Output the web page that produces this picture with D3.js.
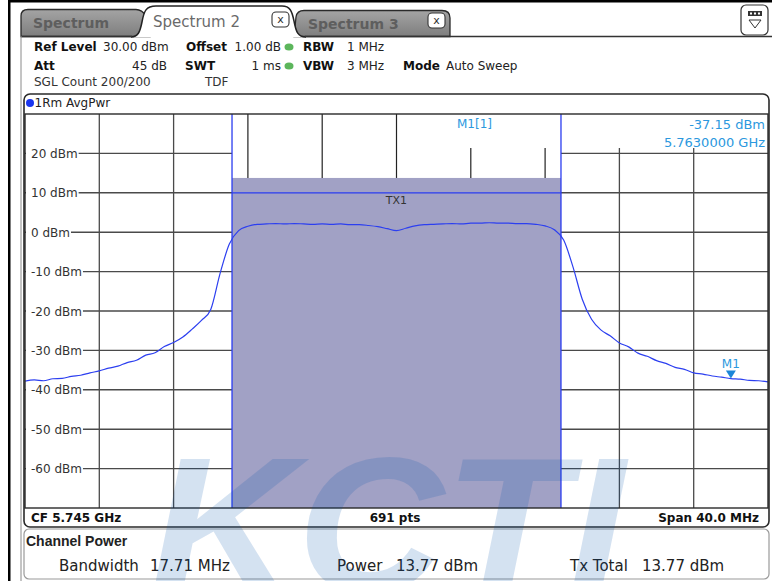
<!DOCTYPE html>
<html><head><meta charset="utf-8">
<script src="https://cdn.jsdelivr.net/npm/d3@7"></script>
<style>body{margin:0;background:#fff;} svg{display:block;}</style>
</head><body>
<svg id="c" width="772" height="581"></svg>
<script>
// ---------- DATA ----------
const centerFreqGHz = 5.745;
const spanMHz = 40.0;
const traceFreqMHz = [-20,-19.5,-19,-18.5,-18,-17.5,-17,-16.5,-16,-15.5,-15,-14.5,-14,-13.5,-13,-12.5,-12,-11.5,-11,-10.5,-10,-9.5,-9,-8.5,-8,-7.5,-7,-6.5,-6,-5.5,-5,-4.5,-4,-3.5,-3,-2.5,-2,-1.5,-1,-0.5,0,0.5,1,1.5,2,2.5,3,3.5,4,4.5,5,5.5,6,6.5,7,7.5,8,8.5,9,9.5,10,10.5,11,11.5,12,12.5,13,13.5,14,14.5,15,15.5,16,16.5,17,17.5,18,18.5,19,19.5,20];
const traceDbm = [-37.8,-37.5,-37.7,-37.2,-37.1,-36.6,-36.3,-35.7,-35.2,-34.5,-34.0,-33.1,-32.5,-31.2,-30.6,-29.0,-28.0,-26.6,-24.6,-22.4,-19.6,-10.5,-3.0,0.4,1.5,2.0,2.1,2.2,2.1,2.2,2.1,2.0,2.1,2.0,2.1,1.9,1.9,1.7,1.4,0.9,0.4,1.0,1.6,1.9,2.0,2.1,2.2,2.1,2.3,2.3,2.4,2.3,2.3,2.2,2.2,2.0,1.6,0.6,-2.0,-8.8,-17.0,-22.1,-24.8,-26.3,-28.1,-29.1,-30.7,-31.5,-32.6,-33.3,-34.3,-34.8,-35.7,-36.0,-36.5,-36.8,-37.15,-37.3,-37.6,-37.7,-38.0];
const yTicks = [20,10,0,-10,-20,-30,-40,-50,-60];
const yTickLabels = ["20 dBm","10 dBm","0 dBm","-10 dBm","-20 dBm","-30 dBm","-40 dBm","-50 dBm","-60 dBm"];
const xGridMHz = [-16,-12,-8,-4,0,4,8,12,16];
const channelBandwidthMHz = 17.71;
const channelPowerDbm = 13.77;
const txTotalDbm = 13.77;
const markerFreqMHz = 18;      // 5.7630000 GHz
const markerDbm = -37.15;
const refLevelDbm = 30;

// ---------- SETUP ----------
const svg = d3.select('#c');
const x = d3.scaleLinear().domain([-spanMHz/2, spanMHz/2]).range([25, 768]);
const y = d3.scaleLinear().domain([refLevelDbm-100, refLevelDbm]).range([508, 114]);
const FONT = "'DejaVu Sans', Verdana, sans-serif";
const GRID = '#4a4a4a';
const BLUE = '#2a3cf0';
const MK = '#2b98de';
const chLo = -channelBandwidthMHz/2, chHi = channelBandwidthMHz/2;

svg.append('rect').attr('width',772).attr('height',581).attr('fill','#fff');

// ---------- TABS ----------
const defs = svg.append('defs');
const g1 = defs.append('linearGradient').attr('id','tabg').attr('x1',0).attr('y1',0).attr('x2',0).attr('y2',1);
g1.append('stop').attr('offset','0%').attr('stop-color','#a4a4a4');
g1.append('stop').attr('offset','100%').attr('stop-color','#7e7e7e');

svg.append('path').attr('d','M21,36.5 L21,16 Q21,9.5 28,9.5 L136,9.5 Q142,9.5 146,16 L150,36.5 Z')
  .attr('fill','url(#tabg)').attr('stroke','#2a2a2a').attr('stroke-width',1.3);
svg.append('path').attr('d','M294,36.5 L296,17 Q297,10.5 304,10.5 L442,10.5 Q450,10.5 450,18 L450,36.5 Z')
  .attr('fill','url(#tabg)').attr('stroke','#2a2a2a').attr('stroke-width',1.3);
svg.append('path').attr('d','M131,37 C138,37 140,32 142,22 C144,11 146,6 156,6 L282,6 C290,6 292,11 294,21 C296,32 298,37 306,37 Z')
  .attr('fill','#fff').attr('stroke','none');
svg.append('path').attr('d','M131,37 C138,37 140,32 142,22 C144,11 146,6 156,6 L282,6 C290,6 292,11 294,21 C296,32 298,37 306,37')
  .attr('fill','none').attr('stroke','#222').attr('stroke-width',1.5);
svg.append('line').attr('x1',21).attr('x2',132).attr('y1',36.5).attr('y2',36.5).attr('stroke','#333').attr('stroke-width',1.3);
svg.append('line').attr('x1',305).attr('x2',772).attr('y1',36.5).attr('y2',36.5).attr('stroke','#333').attr('stroke-width',1.3);
svg.append('line').attr('x1',21).attr('x2',21).attr('y1',36).attr('y2',581).attr('stroke','#8a8a8a').attr('stroke-width',1);

svg.append('text').text('Spectrum').attr('x',33).attr('y',28).attr('font-family',FONT).attr('font-weight','bold').attr('font-size',14).attr('fill','#5e5e5e');
svg.append('text').text('Spectrum 2').attr('x',153).attr('y',27).attr('font-family',FONT).attr('font-size',15).attr('fill','#6a6a6a');
svg.append('text').text('Spectrum 3').attr('x',308).attr('y',29).attr('font-family',FONT).attr('font-weight','bold').attr('font-size',14).attr('fill','#5e5e5e');
// close buttons
[[272,12,'#fff'],[428,13,'#fff']].forEach(([bx,by,f])=>{
  svg.append('rect').attr('x',bx).attr('y',by).attr('width',17).attr('height',15).attr('rx',4).attr('fill',f).attr('stroke','#333').attr('stroke-width',1.1);
  svg.append('text').text('x').attr('x',bx+8.5).attr('y',by+11).attr('text-anchor','middle').attr('font-family',FONT).attr('font-size',11).attr('fill','#333');
});
// top-right icon
svg.append('rect').attr('x',741).attr('y',5).attr('width',27).attr('height',30).attr('rx',5).attr('fill','#fff').attr('stroke','#333').attr('stroke-width',1.2);
svg.append('rect').attr('x',748).attr('y',11).attr('width',14).attr('height',5).attr('fill','#333');
[750,754,758].forEach(px=>svg.append('rect').attr('x',px).attr('y',12.5).attr('width',2).attr('height',2).attr('fill','#fff'));
svg.append('path').attr('d','M749,20 L761,20 L755,28 Z').attr('fill','#fff').attr('stroke','#333').attr('stroke-width',1);

// outer black frame
svg.append('rect').attr('x',8).attr('y',0).attr('width',764).attr('height',2.5).attr('fill','#000');
svg.append('rect').attr('x',8).attr('y',0).attr('width',2.5).attr('height',581).attr('fill','#000');

// ---------- HEADER INFO ----------
function t(txt,xx,yy,opt={}){
  return svg.append('text').text(txt).attr('x',xx).attr('y',yy)
    .attr('font-family',opt.family||FONT).attr('font-size',opt.size||12)
    .attr('font-weight',opt.bold?'bold':'normal').attr('fill',opt.fill||'#111')
    .attr('text-anchor',opt.anchor||'start').attr('dominant-baseline','central');
}
t('Ref Level',34,47,{bold:true}); t('30.00 dBm',103,47,{fill:'#222'});
t('Offset',186,47,{bold:true}); t('1.00 dB',281,47,{anchor:'end',fill:'#222'});
t('RBW',303,47,{bold:true}); t('1 MHz',347,47,{fill:'#222'});
t('Att',34,66,{bold:true}); t('45 dB',167,66,{anchor:'end',fill:'#222'});
t('SWT',185,66,{bold:true}); t('1 ms',281,66,{anchor:'end',fill:'#222'});
t('VBW',303,66,{bold:true}); t('3 MHz',347,66,{fill:'#222'});
t('Mode',403,66,{bold:true}); t('Auto Sweep',446,66,{fill:'#222'});
t('SGL Count 200/200',34,82,{fill:'#333'}); t('TDF',205,82,{fill:'#333'});
[47,66].forEach(yy=>svg.append('ellipse').attr('cx',289).attr('cy',yy).attr('rx',4.5).attr('ry',3.5).attr('fill','#5cb65c'));

// ---------- TRACE WINDOW ----------
svg.append('rect').attr('x',24).attr('y',94).attr('width',745).attr('height',433).attr('rx',6)
  .attr('fill','#fff').attr('stroke','#2a2a2a').attr('stroke-width',1.6);
svg.append('circle').attr('cx',30).attr('cy',103).attr('r',4).attr('fill','#1a35f0');
t('1Rm AvgPwr',34.5,103,{fill:'#222'});

const plot = svg.append('g');
// vertical grid outside channel
xGridMHz.filter(v=>v<chLo||v>chHi).forEach(v=>{
  const top = x(v) > 440 ? 148 : y(refLevelDbm);
  plot.append('line').attr('x1',x(v)).attr('x2',x(v)).attr('y1',top).attr('y2',y(-70))
    .attr('stroke',GRID).attr('stroke-width',1.3);
});
// horizontal grid (outside channel)
yTicks.forEach(v=>{
  plot.append('line').attr('x1',x(-20)).attr('x2',x(chLo)).attr('y1',y(v)).attr('y2',y(v)).attr('stroke',GRID).attr('stroke-width',1.4);
  plot.append('line').attr('x1',x(chHi)).attr('x2',x(20)).attr('y1',y(v)).attr('y2',y(v)).attr('stroke',GRID).attr('stroke-width',1.4);
});
// y labels with white background
yTicks.forEach((v,i)=>{
  const lbl = t(yTickLabels[i],31,y(v)+0.5,{fill:'#333'});
  const w = lbl.node().getComputedTextLength();
  svg.insert('rect', function(){return lbl.node();}).attr('x',26).attr('y',y(v)-7).attr('width',w+6).attr('height',14).attr('fill','#fff');
});
// channel bar
plot.append('rect').attr('x',x(chLo)).attr('y',y(channelPowerDbm)).attr('width',x(chHi)-x(chLo)).attr('height',y(-70)-y(channelPowerDbm))
  .attr('fill','#a1a1c5');
// vertical grid inside channel above bar
xGridMHz.filter(v=>v>=chLo&&v<=chHi).forEach(v=>{
  const top = x(v) > 440 ? 148 : y(refLevelDbm);
  plot.append('line').attr('x1',x(v)).attr('x2',x(v)).attr('y1',top).attr('y2',y(channelPowerDbm))
    .attr('stroke','#222').attr('stroke-width',1.2);
});
plot.append('line').attr('x1',x(chLo)).attr('x2',x(chHi)).attr('y1',y(10)).attr('y2',y(10)).attr('stroke',BLUE).attr('stroke-width',1.3);
[chLo,chHi].forEach(v=>plot.append('line').attr('x1',x(v)).attr('x2',x(v)).attr('y1',y(refLevelDbm)).attr('y2',y(-70)).attr('stroke',BLUE).attr('stroke-width',1.3));
t('TX1',x(0),y(channelPowerDbm)+23,{anchor:'middle',size:11,fill:'#333'});

// trace
const pts = traceFreqMHz.map((f,i)=>[f,traceDbm[i]]);
plot.append('path').attr('d',d3.line().x(d=>x(d[0])).y(d=>y(d[1])).curve(d3.curveMonotoneX)(pts))
  .attr('fill','none').attr('stroke','#2c3ff0').attr('stroke-width',1.2);

// marker
const mx = x(markerFreqMHz), my = y(markerDbm);
plot.append('path').attr('d',`M${mx-5},${my-8} L${mx+5},${my-8} L${mx},${my} Z`).attr('fill','#1b86d8');
t('M1',mx,my-15,{anchor:'middle',fill:MK,size:12});
t('M1[1]',457,124,{fill:MK,size:12});
t('-37.15 dBm',765,124,{anchor:'end',fill:MK,size:13});
t('5.7630000 GHz',765,142,{anchor:'end',fill:MK,size:13});

// plot border
svg.append('rect').attr('x',x(-20)).attr('y',y(refLevelDbm)).attr('width',x(20)-x(-20)).attr('height',y(-70)-y(refLevelDbm))
  .attr('fill','none').attr('stroke','#2a2a2a').attr('stroke-width',1.4);

// bottom bar
t('CF 5.745 GHz',31,518,{bold:true});
t('691 pts',395,518,{bold:true,anchor:'middle'});
t('Span 40.0 MHz',759,518,{bold:true,anchor:'end'});

// ---------- CHANNEL POWER PANEL ----------
svg.append('rect').attr('x',24).attr('y',529).attr('width',745).attr('height',50).attr('rx',5)
  .attr('fill','#fff').attr('stroke','#9a9a9a').attr('stroke-width',1.2);
t('Channel Power',26,541,{family:"'Liberation Sans', Arial, sans-serif",bold:true,size:14,fill:'#222'});
t('Bandwidth',59,566,{size:15,fill:'#222'}); t(channelBandwidthMHz.toFixed(2)+' MHz',150,566,{size:15,fill:'#222'});
t('Power',337,566,{size:15,fill:'#222'}); t(channelPowerDbm.toFixed(2)+' dBm',396,566,{size:15,fill:'#222'});
t('Tx Total',570,566,{size:15,fill:'#222'}); t(txTotalDbm.toFixed(2)+' dBm',642,566,{size:15,fill:'#222'});

// ---------- WATERMARK ----------
svg.append('text').text('KCTI').attr('x',150).attr('y',592)
  .attr('font-family',"'Liberation Sans', Arial, sans-serif").attr('font-weight','bold').attr('font-style','italic')
  .attr('font-size',193).attr('textLength',475).attr('lengthAdjust','spacingAndGlyphs')
  .attr('fill','rgb(0,84,173)').attr('fill-opacity',0.17);
</script>
</body></html>
